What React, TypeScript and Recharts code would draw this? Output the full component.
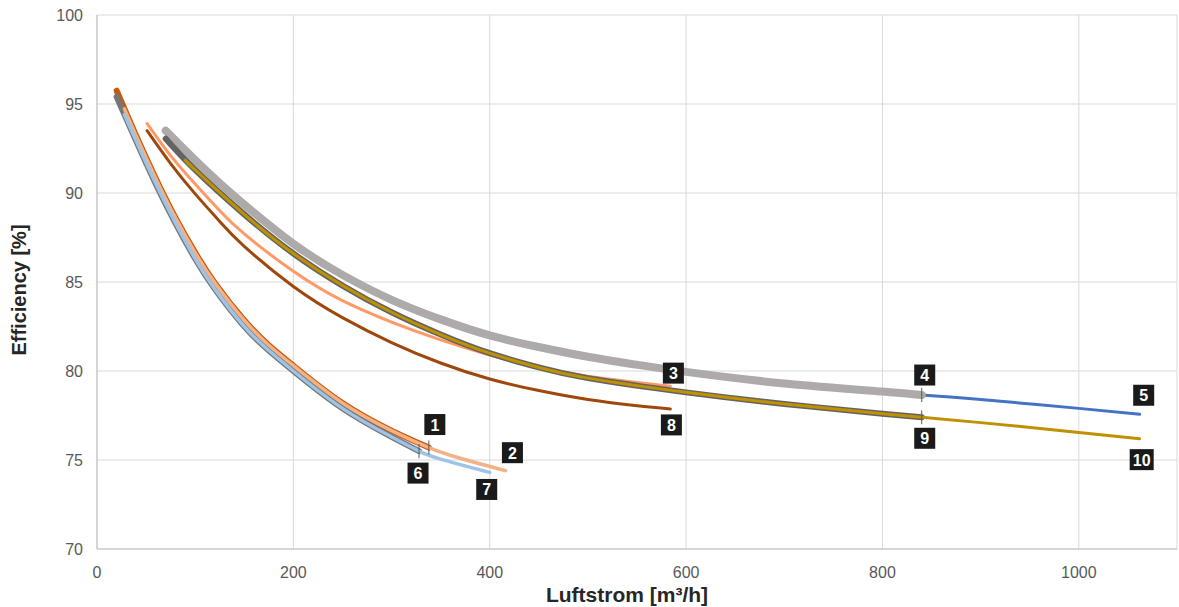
import { LineChart, Line, XAxis, YAxis, CartesianGrid, Label } from 'recharts'

// Luftstrom (m³/h) / efficiency (%) pairs, one pair of arrays per curve
const flow1 = [20, 40, 60, 80, 100, 120, 150, 175, 200, 250, 300, 338]
const eff1 = [95.75, 93.2, 90.8, 88.6, 86.65, 84.95, 82.85, 81.45, 80.3, 78.2, 76.65, 75.7]

const flow2 = [28, 40, 60, 80, 100, 120, 150, 175, 200, 250, 300, 338, 370, 416]
const eff2 = [94.73, 93.2, 90.8, 88.6, 86.65, 84.95, 82.85, 81.45, 80.3, 78.2, 76.65, 75.7, 75.1, 74.4]

const flow3 = [51, 75, 100, 125, 150, 200, 250, 300, 350, 400, 450, 500, 550, 584]
const eff3 = [93.9, 92.1, 90.5, 89.0, 87.7, 85.6, 83.95, 82.75, 81.75, 80.9, 80.2, 79.7, 79.35, 79.15]

const flow4 = [70, 100, 125, 150, 200, 250, 300, 350, 400, 450, 500, 550, 600, 700, 800, 840]
const eff4 = [93.5, 91.85, 90.55, 89.35, 87.15, 85.4, 84.0, 82.9, 82.0, 81.35, 80.8, 80.35, 79.95, 79.3, 78.85, 78.65]

const flow5 = [70, 100, 125, 150, 200, 250, 300, 350, 400, 500, 600, 700, 840, 900, 1000, 1062]
const eff5 = [93.5, 91.9, 90.65, 89.47, 87.27, 85.48, 84.05, 82.92, 82.0, 80.8, 79.95, 79.3, 78.65, 78.4, 77.9, 77.57]

const flow6 = [20, 40, 60, 80, 100, 120, 150, 175, 200, 250, 300, 328]
const eff6 = [95.4, 92.9, 90.5, 88.3, 86.3, 84.6, 82.5, 81.15, 80.0, 77.9, 76.3, 75.5]

const flow7 = [28, 40, 60, 80, 100, 120, 150, 175, 200, 250, 300, 328, 350, 400]
const eff7 = [94.4, 92.9, 90.5, 88.3, 86.3, 84.6, 82.5, 81.15, 80.0, 77.9, 76.3, 75.5, 75.05, 74.3]

const flow8 = [51, 75, 100, 125, 150, 200, 250, 300, 350, 400, 450, 500, 550, 584]
const eff8 = [93.5, 91.65, 89.95, 88.4, 87.0, 84.75, 83.0, 81.6, 80.45, 79.55, 78.9, 78.4, 78.05, 77.87]

const flow9 = [70, 100, 150, 200, 250, 300, 350, 400, 450, 500, 600, 700, 800, 840]
const eff9 = [93.05, 91.3, 88.8, 86.6, 84.8, 83.3, 82.05, 81.0, 80.2, 79.6, 78.8, 78.15, 77.6, 77.4]

const flow10 = [90, 100, 150, 200, 250, 300, 350, 400, 450, 500, 600, 700, 800, 840, 900, 1000, 1062]
const eff10 = [91.85, 91.3, 88.8, 86.6, 84.8, 83.3, 82.05, 81.0, 80.2, 79.6, 78.8, 78.15, 77.6, 77.4, 77.1, 76.55, 76.2]

const xTicks = [0, 200, 400, 600, 800, 1000]
const yTicks = [70, 75, 80, 85, 90, 95, 100]

const zip = (xs: number[], ys: number[]) => xs.map((x, i) => ({ x, y: ys[i] }))

type Series = {
  id: string
  data: { x: number; y: number }[]
  color: string
  width: number
  dx: number
  dy: number
  tick?: boolean
}

// draw order matters: later curves sit on top
const SERIES: Series[] = [
  { id: '5', data: zip(flow5, eff5), color: '#4472C4', width: 3, dx: 4, dy: -19 },
  { id: '4', data: zip(flow4, eff4), color: '#AEAAAA', width: 8, dx: 3, dy: -20, tick: true },
  { id: '3', data: zip(flow3, eff3), color: '#FF9966', width: 3, dx: 3, dy: -13 },
  { id: '8', data: zip(flow8, eff8), color: '#9E480E', width: 3, dx: 1, dy: 16 },
  { id: '9', data: zip(flow9, eff9), color: '#636363', width: 6, dx: 3, dy: 21, tick: true },
  { id: '10', data: zip(flow10, eff10), color: '#BF9000', width: 3, dx: 2, dy: 21 },
  { id: '1', data: zip(flow1, eff1), color: '#C55A11', width: 6, dx: 6, dy: -23, tick: true },
  { id: '6', data: zip(flow6, eff6), color: '#767676', width: 6, dx: -1, dy: 22, tick: true },
  { id: '2', data: zip(flow2, eff2), color: '#F4B183', width: 3.5, dx: 7, dy: -18 },
  { id: '7', data: zip(flow7, eff7), color: '#9DC3E6', width: 3.5, dx: -3, dy: 17 },
]

const FONT = '"Liberation Sans", Arial, sans-serif'

function endMarker(s: Series) {
  const last = s.data.length - 1
  return (props: any) => {
    const { cx, cy, index } = props
    if (index !== last) return <g key={`d-${s.id}-${index}`} />
    const w = s.id.length > 1 ? 24 : 21
    return (
      <g key={`d-${s.id}-${index}`}>
        {s.tick && <line x1={cx} x2={cx} y1={cy - 7} y2={cy + 7} stroke="#595959" strokeWidth={1} />}
        <rect x={cx + s.dx - w / 2} y={cy + s.dy - 10.5} width={w} height={21} fill="#1A1A1A" />
        <text
          x={cx + s.dx}
          y={cy + s.dy + 6}
          textAnchor="middle"
          fill="#FFFFFF"
          fontFamily={FONT}
          fontWeight="bold"
          fontSize={16}
        >
          {s.id}
        </text>
      </g>
    )
  }
}

export default function App() {
  return (
    <div style={{ position: 'absolute', left: 0, top: 0, background: '#FFFFFF' }}>
      <LineChart width={1179} height={607} margin={{ top: 15, right: 2, bottom: 0, left: 0 }}>
        <CartesianGrid stroke="#D9D9D9" strokeWidth={1} />
        <XAxis
          type="number"
          dataKey="x"
          domain={[0, 1100]}
          ticks={xTicks}
          allowDataOverflow
          height={58}
          tickLine={false}
          tickMargin={12}
          axisLine={{ stroke: '#BFBFBF' }}
          tick={{ fill: '#595959', fontSize: 16, fontFamily: FONT }}
        >
          <Label
            value="Luftstrom [m³/h]"
            position="insideBottom"
            offset={5}
            dx={-10}
            style={{ fill: '#262626', fontSize: 21, fontWeight: 'bold', fontFamily: FONT }}
          />
        </XAxis>
        <YAxis
          type="number"
          domain={[70, 100]}
          ticks={yTicks}
          width={97}
          tickLine={false}
          tickMargin={8}
          axisLine={{ stroke: '#BFBFBF' }}
          tick={{ fill: '#595959', fontSize: 16, fontFamily: FONT }}
        >
          <Label
            content={() => (
              <text
                x={19}
                y={290}
                transform="rotate(-90 19 290)"
                textAnchor="middle"
                dominantBaseline="central"
                fill="#262626"
                fontSize={20}
                fontWeight="bold"
                fontFamily={FONT}
              >
                Efficiency [%]
              </text>
            )}
          />
        </YAxis>
        {SERIES.map((s) => (
          <Line
            key={s.id}
            data={s.data}
            dataKey="y"
            type="natural"
            stroke={s.color}
            strokeWidth={s.width}
            strokeLinecap="round"
            dot={endMarker(s)}
            activeDot={false}
            isAnimationActive={false}
          />
        ))}
      </LineChart>
    </div>
  )
}
